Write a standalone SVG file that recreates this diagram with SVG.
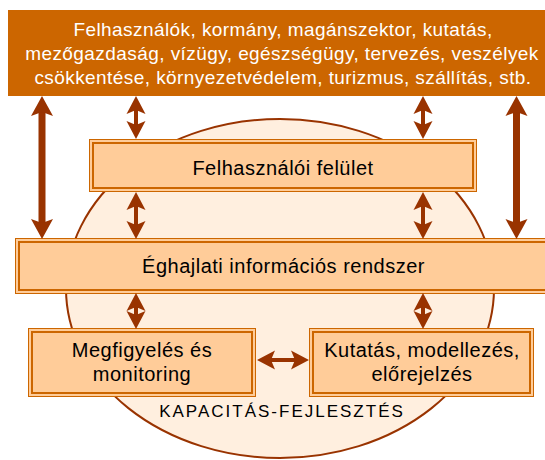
<svg xmlns="http://www.w3.org/2000/svg" width="545" height="460" viewBox="0 0 545 460">
<style>
.top{fill:#CC6600}
.box{fill:#FFCC99;stroke:#CC6600}
.o{stroke-width:1}
.i{stroke-width:2}
.t{font-family:"Liberation Sans",Arial,sans-serif;text-anchor:middle}
.tw{fill:#FFFFFF;font-size:19px;letter-spacing:0.43px}
.tb{fill:#000000;font-size:20px;letter-spacing:0.5px}
.tk{fill:#000000;font-size:17px;letter-spacing:2px}
.big{stroke:#993300;stroke-width:7;fill:none;marker-start:url(#hb);marker-end:url(#hb)}
.sm{stroke:#993300;stroke-width:4;fill:none;marker-start:url(#hs);marker-end:url(#hs)}
</style>
<defs>
<marker id="hb" markerUnits="userSpaceOnUse" orient="auto-start-reverse" refX="0" refY="0" markerWidth="40" markerHeight="40" overflow="visible">
<path d="M16,0 L-4,-11 L0,0 L-4,11 Z" fill="#993300"/>
</marker>
<marker id="hs" markerUnits="userSpaceOnUse" orient="auto-start-reverse" refX="0" refY="0" markerWidth="40" markerHeight="40" overflow="visible">
<path d="M14,0 L-4,-9.5 L0,0 L-4,9.5 Z" fill="#993300"/>
</marker>
</defs>
<rect width="545" height="460" fill="#FFFFFF"/>
<g id="kapacitas">
<ellipse cx="280" cy="288.5" rx="214" ry="169.5" fill="#FFEFDF" stroke="#993300" stroke-width="2"/>
<text class="t tk" x="282" y="417">KAPACITÁS-FEJLESZTÉS</text>
</g>
<g id="felhasznalok">
<rect class="top" x="8" y="10" width="545" height="86"/>
<text class="t tw" x="283" y="36">Felhasználók, kormány, magánszektor, kutatás,</text>
<text class="t tw" x="282" y="60">mezőgazdaság, vízügy, egészségügy, tervezés, veszélyek</text>
<text class="t tw" x="283" y="84">csökkentése, környezetvédelem, turizmus, szállítás, stb.</text>
</g>
<g id="felulet">
<rect class="box o" x="89.5" y="139.5" width="387" height="52"/>
<rect class="box i" x="93" y="143" width="380" height="45"/>
<text class="t tb" x="283" y="175">Felhasználói felület</text>
</g>
<g id="rendszer">
<rect class="box o" x="15.5" y="238.5" width="540" height="55"/>
<rect class="box i" x="19" y="242" width="540" height="48"/>
<text class="t tb" x="283.5" y="273">Éghajlati információs rendszer</text>
</g>
<g id="megfigyeles">
<rect class="box o" x="28.5" y="328.5" width="227" height="68"/>
<rect class="box i" x="32" y="332" width="220" height="61"/>
<text class="t tb" x="142" y="357">Megfigyelés és</text>
<text class="t tb" x="142" y="381">monitoring</text>
</g>
<g id="kutatas">
<rect class="box o" x="309.5" y="328.5" width="224" height="68"/>
<rect class="box i" x="313" y="332" width="217" height="61"/>
<text class="t tb" x="422" y="357">Kutatás, modellezés,</text>
<text class="t tb" x="422" y="381">előrejelzés</text>
</g>
<g id="connectors">
<line class="big" x1="42" y1="112" x2="42" y2="223"/>
<line class="big" x1="516.5" y1="112" x2="516.5" y2="223"/>
<line class="sm" x1="136" y1="110" x2="136" y2="125"/>
<line class="sm" x1="423" y1="110" x2="423" y2="125"/>
<line class="sm" x1="136" y1="206" x2="136" y2="225"/>
<line class="sm" x1="423" y1="206" x2="423" y2="225"/>
<line class="sm" x1="136" y1="307" x2="136" y2="315"/>
<line class="sm" x1="423" y1="307" x2="423" y2="315"/>
<line class="sm" x1="271" y1="360" x2="295" y2="360"/>
</g>
</svg>
